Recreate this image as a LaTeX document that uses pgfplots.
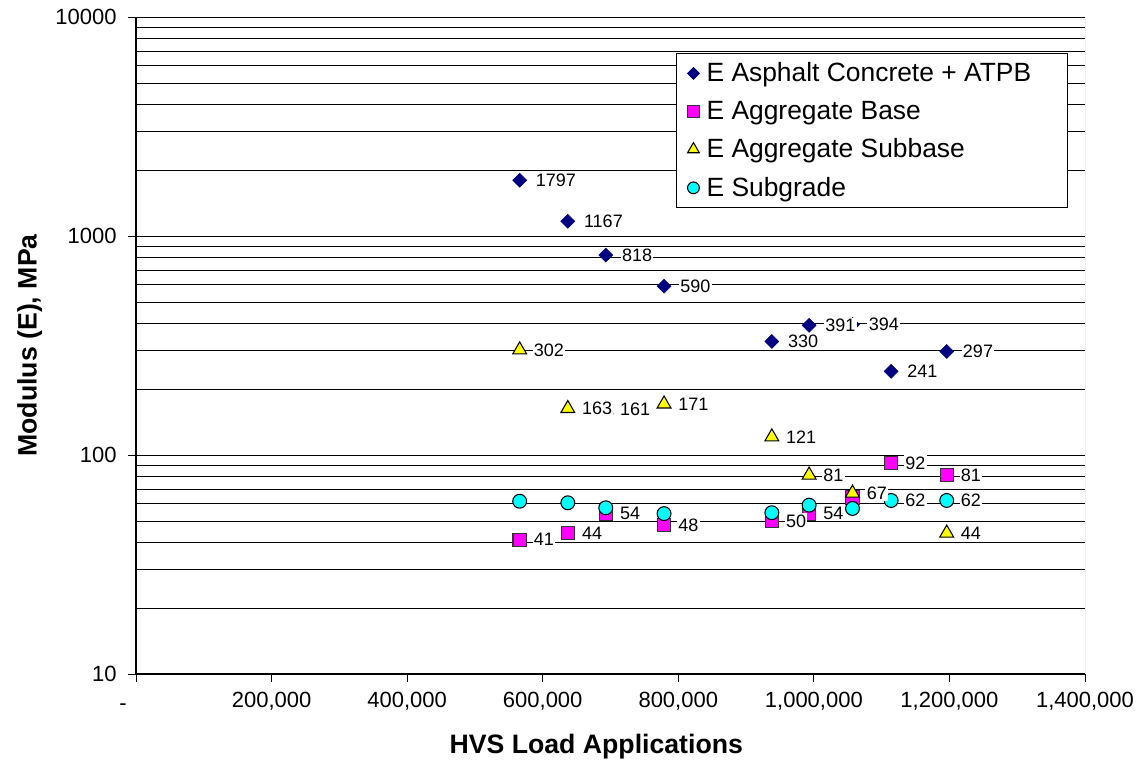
\documentclass[border=0pt]{standalone}
\usepackage{fontspec}
\setmainfont{Liberation Sans}
\usepackage{pgfplots}
\pgfplotsset{compat=1.18}

\definecolor{acnavy}{HTML}{000080}
\definecolor{basemag}{HTML}{FF00FF}
\definecolor{subyel}{HTML}{FFFF00}
\definecolor{sgcyan}{HTML}{00FFFF}

\begin{document}
\begin{tikzpicture}
\begin{axis}[
    scale only axis,
    width=711.75pt, height=492.75pt,
    xmin=0, xmax=1400000,
    ymin=10, ymax=10000,
    ymode=log,
    xtick={0,200000,400000,600000,800000,1000000,1200000,1400000},
    xticklabels={\vphantom{0}\raisebox{-2pt}{-}\hspace{19.5pt}\mbox{},{200,000},{400,000},{600,000},{800,000},{1,000,000},{1,200,000},{1,400,000}},
    ytick={10,100,1000,10000},
    yticklabels={10,100,1000,10000},
    scaled x ticks=false,
    axis x line*=bottom, axis y line*=left,
    axis line style={-, black, line width=0.8pt},
    tick align=outside,
    major tick length=6pt, minor tick length=0pt,
    tick style={black, line width=0.6pt},
    ymajorgrids, yminorgrids,
    major grid style={black, line width=0.6pt},
    minor grid style={black, line width=0.6pt},
    ticklabel style={font=\fontsize{16.5}{18}\selectfont},
    xticklabel style={yshift=-4pt},
    yticklabel style={xshift=-5pt},
    xlabel={HVS Load Applications},
    ylabel={Modulus (E), MPa},
    xlabel style={font=\bfseries\fontsize{20}{24}\selectfont, at={(axis description cs:0.485,-0.11)}, anchor=center},
    ylabel style={font=\bfseries\fontsize{20}{24}\selectfont, at={(axis description cs:-0.112,0.5)}, anchor=center},
    legend style={at={(0.982,0.945)}, anchor=north east, draw=black, line width=0.6pt,
        font=\fontsize{19.8}{22}\selectfont, row sep=9pt, column sep=3.4pt,
        inner xsep=8.7pt, inner ysep=5pt},
    legend image post style={scale=0.85},
    legend cell align=left,
    every node near coord/.style={anchor=west, fill=white, inner sep=1pt, font=\fontsize{13.5}{15}\selectfont},
]
% markers
\addplot[only marks, mark=square*, mark size=3.7pt, mark options={rotate=45, fill=acnavy, draw=acnavy}]
    coordinates {(566000,1797) (637000,1167) (693000,818) (779000,590) (938000,330) (993000,391) (1057000,394) (1114000,241) (1196000,297)};
\addlegendentry{E Asphalt Concrete + ATPB\hspace{16.6pt}\mbox{}}
\addplot[only marks, mark=square*, mark size=5pt, mark options={fill=basemag, draw=black!80, line width=0.8pt}]
    coordinates {(566000,41) (637000,44) (693000,54) (779000,48) (938000,50) (993000,54) (1057000,64) (1114000,92) (1196000,81)};
\addlegendentry{E Aggregate Base}
\addplot[only marks, mark=triangle*, mark size=6pt, mark options={fill=subyel, draw=black, line width=0.8pt}]
    coordinates {(566000,302) (637000,163) (693000,161) (779000,171) (938000,121) (993000,81) (1057000,67) (1196000,44)};
\addlegendentry{E Aggregate Subbase}
\addplot[only marks, mark=*, mark size=5.2pt, mark options={fill=sgcyan, draw=black, line width=0.8pt}]
    coordinates {(566000,61.5) (637000,60.5) (693000,57.4) (779000,54) (938000,54.5) (993000,59) (1057000,57) (1114000,62) (1196000,62)};
\addlegendentry{E Subgrade}
% data labels
\addplot[draw=none, forget plot, nodes near coords, point meta=explicit symbolic,
    every node near coord/.append style={xshift=11pt}]
    coordinates {(566000,1797)[1797] (637000,1167)[1167] (693000,818)[818] (779000,590)[590] (938000,330)[330] (993000,391)[391] (1057000,394)[394] (1114000,241)[241] (1196000,297)[297]};
\addplot[draw=none, forget plot, nodes near coords, point meta=explicit symbolic,
    every node near coord/.append style={xshift=9.5pt}]
    coordinates {(566000,41)[41] (637000,44)[44] (693000,54)[54] (779000,48)[48] (938000,50)[50] (993000,54)[54] (1114000,92)[92] (1196000,81)[81]};
\addplot[draw=none, forget plot, nodes near coords, point meta=explicit symbolic,
    every node near coord/.append style={xshift=9.5pt}]
    coordinates {(566000,302)[302] (693000,161)[161] (637000,163)[163] (779000,171)[171] (938000,121)[121] (993000,81)[81] (1057000,67)[67] (1196000,44)[44]};
\addplot[draw=none, forget plot, nodes near coords, point meta=explicit symbolic,
    every node near coord/.append style={xshift=9.5pt}]
    coordinates {(1114000,62)[62] (1196000,62)[62]};
\draw[gray, line width=0.6pt] (rel axis cs:1,0) -- (rel axis cs:1,1);
\end{axis}
\pgfresetboundingbox
\path (current axis.south west) +(-102pt,-69.75pt) (current axis.north east) +(40.5pt,12.75pt);
\end{tikzpicture}
\end{document}
